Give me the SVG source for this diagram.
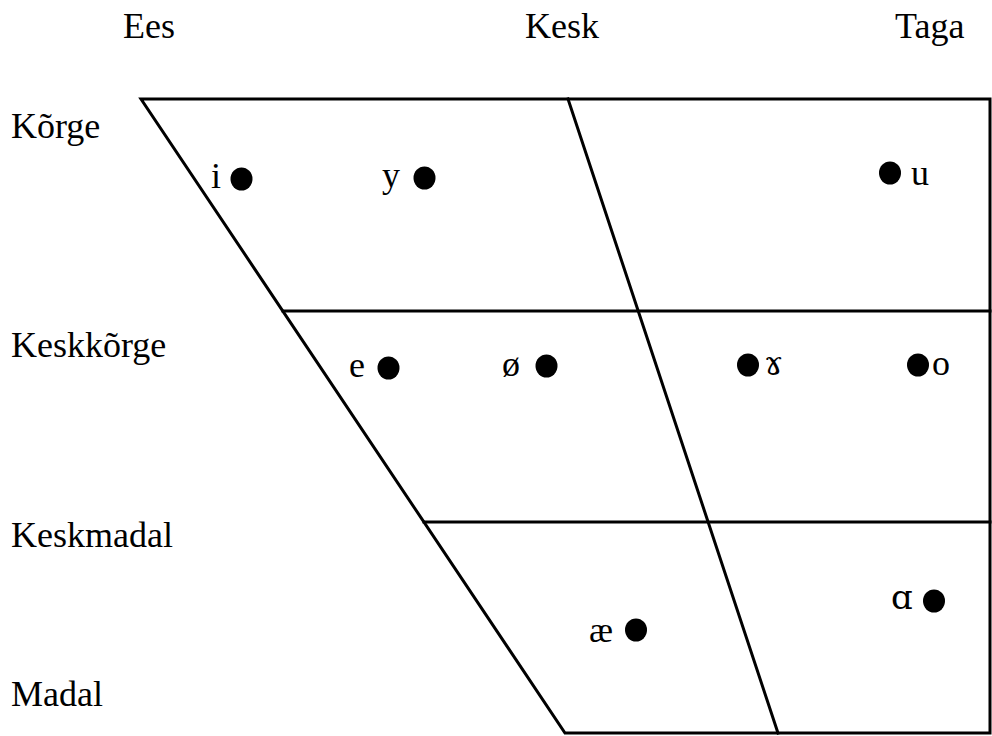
<svg xmlns="http://www.w3.org/2000/svg" width="992" height="736" viewBox="0 0 992 736">
<style>
.t{font-family:"Liberation Serif","DejaVu Serif",serif;font-size:36px;fill:#000}
.ipa{font-family:"DejaVu Serif","Liberation Serif",serif;font-size:34px}
.l{stroke:#000;stroke-width:3;fill:none;stroke-linecap:square}
.d{fill:#000}
</style>
<rect width="992" height="736" fill="#fff"/>
<g id="headers">
<text class="t" x="123" y="38">Ees</text>
<text class="t" x="525" y="38">Kesk</text>
<text class="t" x="895" y="38">Taga</text>
</g>
<g id="rows">
<text class="t" x="11" y="138">Kõrge</text>
<text class="t" x="11" y="357">Keskkõrge</text>
<text class="t" x="11" y="547">Keskmadal</text>
<text class="t" x="11" y="706">Madal</text>
</g>
<g id="chart">
<path class="l" d="M141,99 H990 V733 H565 Z"/>
<path class="l" d="M568,99 L778,733"/>
<path class="l" d="M283,311 H990"/>
<path class="l" d="M424,522 H990"/>
</g>
<g id="v-i"><text class="t" x="211" y="188">i</text><ellipse class="d" cx="241.5" cy="179" rx="11" ry="11.5"/></g>
<g id="v-y"><text class="t" x="382" y="187">y</text><ellipse class="d" cx="424.5" cy="178" rx="11" ry="11.5"/></g>
<g id="v-u"><ellipse class="d" cx="890" cy="173" rx="11" ry="11.5"/><text class="t" x="911" y="185">u</text></g>
<g id="v-e"><text class="t" x="349" y="377">e</text><ellipse class="d" cx="388.5" cy="368" rx="11" ry="11.5"/></g>
<g id="v-oe"><text class="t" x="502" y="376">ø</text><ellipse class="d" cx="546.5" cy="366" rx="11" ry="11.5"/></g>
<g id="v-gamma"><ellipse class="d" cx="748" cy="365" rx="11" ry="11.5"/><text class="t ipa" x="764" y="375">ɤ</text></g>
<g id="v-o"><ellipse class="d" cx="918" cy="365" rx="11" ry="11.5"/><text class="t" x="932" y="375">o</text></g>
<g id="v-ae"><text class="t" x="589" y="642">æ</text><ellipse class="d" cx="636" cy="630" rx="11" ry="11.5"/></g>
<g id="v-alpha"><text class="t ipa" x="891" y="609">ɑ</text><ellipse class="d" cx="934" cy="601" rx="11" ry="11.5"/></g>
</svg>
